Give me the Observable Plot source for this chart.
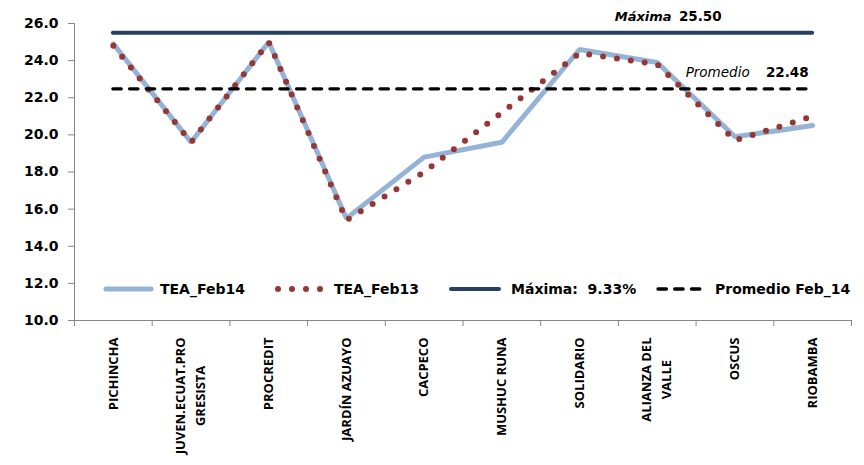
<!DOCTYPE html>
<html><head><meta charset="utf-8">
<script src="https://cdn.jsdelivr.net/npm/d3@7"></script>
<script src="https://cdn.jsdelivr.net/npm/@observablehq/plot@0.6"></script>
<style>body{margin:0;background:#fff} #chart{width:864px;height:465px}</style>
</head><body><div id="chart"></div>
<script>
const categories = ["PICHINCHA","JUVEN.ECUAT.PRO\nGRESISTA","PROCREDIT","JARDÍN AZUAYO","CACPECO","MUSHUC RUNA","SOLIDARIO","ALIANZA DEL\nVALLE","OSCUS","RIOBAMBA"];
const teaFeb14 = [24.9, 19.6, 25.0, 15.5, 18.8, 19.6, 24.6, 23.9, 19.9, 20.5];
const teaFeb13 = [24.8, 19.6, 25.0, 15.4, 18.0, 21.2, 24.4, 23.8, 19.7, 21.0];
const maxima = 25.50;
const promedio = 22.48;
const yTicks = [10, 12, 14, 16, 18, 20, 22, 24, 26];
const legendLabels = ["TEA_Feb14", "TEA_Feb13", "Máxima:  9.33%", "Promedio Feb_14"];

const C14 = "#95b3d7", C13 = "#953735", CMAX = "#254061", CAX = "#868686";
const n = categories.length;
const rows14 = teaFeb14.map((v, i) => ({i, v}));
const rows13 = teaFeb13.map((v, i) => ({i, v}));
const bounds = d3.range(n + 1).map(i => i - 0.5);

const ctx = document.createElement("canvas").getContext("2d");
ctx.font = "bold 13px 'Open Sans'";
const labelMarks = [];
categories.forEach((c, i) => {
  const lines = c.split("\n");
  const maxW = d3.max(lines, l => ctx.measureText(l).width);
  lines.forEach((l, j) => {
    labelMarks.push(Plot.text([l], {
      x: i, y: 10, text: d => d, rotate: -90, textAnchor: "middle",
      dy: 17 + maxW / 2, dx: (j - (lines.length - 1) / 2) * 20,
      fontFamily: "Open Sans", fontSize: 13, fontWeight: "bold", fill: "black"
    }));
  });
});

const chart = Plot.plot({
  width: 864, height: 465,
  marginLeft: 74, marginRight: 13, marginTop: 23, marginBottom: 145,
  style: {fontFamily: "DejaVu Sans", fontWeight: "bold", background: "white", color: "black"},
  x: {type: "linear", domain: [-0.5, n - 0.5]},
  y: {type: "linear", domain: [10, 26]},
  marks: [
    Plot.ruleX([-0.5], {stroke: CAX, strokeWidth: 1}),
    Plot.ruleY([10], {stroke: CAX, strokeWidth: 1}),
    Plot.axisY({ticks: yTicks, tickFormat: d => d.toFixed(1), tickSize: 6, tickPadding: 10,
      stroke: CAX, fill: "black", fontSize: 14, fontWeight: "bold", label: null}),
    Plot.axisX({ticks: bounds, tickFormat: () => "", tickSize: 6, stroke: CAX, label: null}),
    ...labelMarks,
    Plot.line(rows14, {x: "i", y: "v", stroke: C14, strokeWidth: 5, strokeLinejoin: "miter"}),
    Plot.line(rows13, {x: "i", y: "v", stroke: C13, strokeWidth: 6, strokeDasharray: "0 14", strokeLinecap: "round"}),
    Plot.ruleY([maxima], {x1: 0, x2: n - 1, stroke: CMAX, strokeWidth: 4, strokeLinecap: "round"}),
    Plot.ruleY([promedio], {x1: 0, x2: n - 1, stroke: "black", strokeWidth: 3.3, strokeDasharray: "8.4 8.3", strokeLinecap: "round"}),
    Plot.text([maxima], {x: n - 1, y: d => d, text: () => "Máxima", textAnchor: "end", dx: -141, dy: -16,
      fontStyle: "italic", fontWeight: "bold", fontSize: 13, fill: "black"}),
    Plot.text([maxima], {x: n - 1, y: d => d, text: d => d.toFixed(2), textAnchor: "end", dx: -91, dy: -16,
      fontWeight: "bold", fontSize: 13.5, fill: "black"}),
    Plot.text([promedio], {x: n - 1, y: d => d, text: () => "Promedio", textAnchor: "end", dx: -63, dy: -16,
      fontStyle: "italic", fontWeight: "normal", fontSize: 13.5, fill: "black"}),
    Plot.text([promedio], {x: n - 1, y: d => d, text: d => d.toFixed(2), textAnchor: "end", dx: -4, dy: -16,
      fontWeight: "bold", fontSize: 13.5, fill: "black"})
  ]
});
document.getElementById("chart").appendChild(chart);

// legend
const svg = d3.select(chart);
const lg = svg.append("g").attr("font-family", "DejaVu Sans").attr("font-weight", "bold")
  .attr("font-size", 14).attr("fill", "black").attr("text-anchor", "start");
const ly = 289;
lg.append("line").attr("x1", 106).attr("x2", 151).attr("y1", ly).attr("y2", ly)
  .attr("stroke", C14).attr("stroke-width", 5).attr("stroke-linecap", "round");
lg.append("text").attr("x", 160).attr("y", ly).attr("dy", "0.36em").text(legendLabels[0]);
[278, 292, 306, 320].forEach(cx => lg.append("circle").attr("cx", cx).attr("cy", ly).attr("r", 3).attr("fill", C13));
lg.append("text").attr("x", 334).attr("y", ly).attr("dy", "0.36em").text(legendLabels[1]);
lg.append("line").attr("x1", 451).attr("x2", 499).attr("y1", ly).attr("y2", ly)
  .attr("stroke", CMAX).attr("stroke-width", 4).attr("stroke-linecap", "round");
lg.append("text").attr("x", 511).attr("y", ly).attr("dy", "0.36em").style("white-space", "pre").text(legendLabels[2]);
lg.append("line").attr("x1", 658).attr("x2", 701).attr("y1", ly).attr("y2", ly)
  .attr("stroke", "black").attr("stroke-width", 3.3).attr("stroke-dasharray", "8.4 8.3").attr("stroke-linecap", "round");
lg.append("text").attr("x", 715).attr("y", ly).attr("dy", "0.36em").text(legendLabels[3]);
</script>
</body></html>
